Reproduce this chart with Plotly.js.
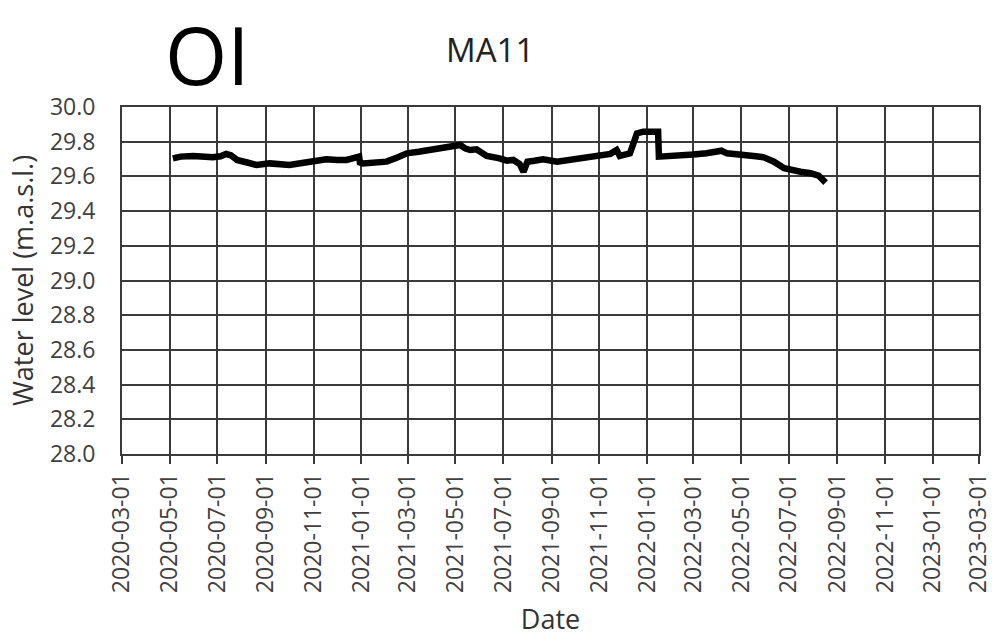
<!DOCTYPE html>
<html>
<head>
<meta charset="utf-8">
<script src="https://cdn.plot.ly/plotly-3.0.1.min.js"></script>
<style>
  html, body { margin: 0; padding: 0; background: #fff; }
  #chart { width: 992px; height: 637px; }
</style>
</head>
<body>
<div id="chart"></div>
<script>
// Groundwater level record, well MA11
const dates = [
  '2020-05-05', '2020-05-15', '2020-05-31', '2020-06-12', '2020-06-25', '2020-07-05',
  '2020-07-12', '2020-07-18', '2020-07-26', '2020-08-08', '2020-08-20', '2020-09-06',
  '2020-09-20', '2020-10-01', '2020-10-15', '2020-10-27', '2020-11-08', '2020-11-17',
  '2020-12-01', '2020-12-13', '2020-12-29', '2020-12-30', '2021-01-03', '2021-01-18',
  '2021-02-02', '2021-02-15', '2021-02-28', '2021-03-15', '2021-03-30', '2021-04-15',
  '2021-05-03', '2021-05-07', '2021-05-14', '2021-05-20', '2021-05-28', '2021-06-10',
  '2021-06-25', '2021-07-06', '2021-07-14', '2021-07-22', '2021-07-27', '2021-08-01',
  '2021-08-10', '2021-08-21', '2021-09-08', '2021-09-22', '2021-10-07', '2021-10-20',
  '2021-11-02', '2021-11-15', '2021-11-23', '2021-11-27', '2021-12-10', '2021-12-19',
  '2021-12-27', '2022-01-15', '2022-01-16', '2022-02-01', '2022-02-16', '2022-03-01',
  '2022-03-18', '2022-04-06', '2022-04-13', '2022-04-25', '2022-05-09', '2022-05-20',
  '2022-05-30', '2022-06-12', '2022-06-25', '2022-07-05', '2022-07-16', '2022-07-29',
  '2022-08-08', '2022-08-17'
];
const levels = [
  29.704, 29.714, 29.718, 29.712, 29.710, 29.716,
  29.729, 29.722, 29.695, 29.680, 29.666, 29.675,
  29.668, 29.666, 29.676, 29.685, 29.690, 29.699,
  29.694, 29.695, 29.714, 29.680, 29.675, 29.684,
  29.685, 29.708, 29.733, 29.742, 29.752, 29.758,
  29.771, 29.781, 29.760, 29.752, 29.756, 29.718,
  29.705, 29.691, 29.695, 29.672, 29.627, 29.685,
  29.690, 29.699, 29.685, 29.693, 29.699, 29.708,
  29.723, 29.730, 29.752, 29.718, 29.733, 29.848,
  29.858, 29.858, 29.714, 29.716, 29.718, 29.726,
  29.733, 29.748, 29.733, 29.730, 29.723, 29.716,
  29.710, 29.685, 29.647, 29.635, 29.627, 29.618,
  29.605, 29.564
];

const xTicks = [
  '2020-03-01', '2020-05-01', '2020-07-01', '2020-09-01', '2020-11-01',
  '2021-01-01', '2021-03-01', '2021-05-01', '2021-07-01', '2021-09-01', '2021-11-01',
  '2022-01-01', '2022-03-01', '2022-05-01', '2022-07-01', '2022-09-01', '2022-11-01',
  '2023-01-01', '2023-03-01'
];
const yTicks = [28.0, 28.2, 28.4, 28.6, 28.8, 29.0, 29.2, 29.4, 29.6, 29.8, 30.0];

const tickFont = { family: 'Open Sans, Liberation Sans, sans-serif', size: 23, color: '#404040' };
const titleFont = { family: 'Open Sans, sans-serif', size: 27, color: '#333333' };
const gridColor = '#3a3a3a';

const trace = {
  x: dates,
  y: levels,
  type: 'scatter',
  mode: 'lines',
  line: { color: '#000000', width: 6.5 },
  hoverinfo: 'x+y'
};

const layout = {
  width: 992,
  height: 637,
  margin: { l: 122, r: 13, t: 107, b: 183 },
  paper_bgcolor: '#ffffff',
  plot_bgcolor: '#ffffff',
  showlegend: false,
  xaxis: {
    type: 'date',
    range: ['2020-03-01', '2023-03-01 00:10'],
    tickmode: 'array',
    tickvals: xTicks,
    ticktext: xTicks,
    tickangle: -90,
    ticklabeloverflow: 'allow',
    ticks: 'outside',
    ticklen: 8,
    tickwidth: 2,
    tickcolor: gridColor,
    tickfont: tickFont,
    showgrid: true,
    gridcolor: gridColor,
    gridwidth: 1.6,
    showline: true,
    linecolor: gridColor,
    linewidth: 2,
    mirror: true,
    zeroline: false,
    title: { text: 'Date', font: titleFont, standoff: 18 }
  },
  yaxis: {
    range: [28.0, 30.0],
    tickvals: yTicks,
    ticktext: yTicks.map(v => v.toFixed(1)),
    ticks: '',
    ticklabelstandoff: 20,
    tickfont: tickFont,
    showgrid: true,
    gridcolor: gridColor,
    gridwidth: 1.6,
    showline: true,
    linecolor: gridColor,
    linewidth: 2,
    mirror: true,
    zeroline: false,
    title: { text: 'Water level (m.a.s.l.)', font: titleFont, standoff: 8 }
  },
  annotations: [
    {
      text: 'OI', xref: 'paper', yref: 'paper', x: 0.10, y: 1.155,
      xanchor: 'center', yanchor: 'middle', showarrow: false,
      font: { family: 'Open Sans, sans-serif', size: 80, color: '#000000' }
    },
    {
      text: 'MA11', xref: 'paper', yref: 'paper', x: 0.4295, y: 1.165,
      xanchor: 'center', yanchor: 'middle', showarrow: false,
      font: { family: 'Open Sans, sans-serif', size: 33, color: '#222222' }
    }
  ]
};

Plotly.newPlot('chart', [trace], layout, { displayModeBar: false, responsive: false });
</script>
</body>
</html>
